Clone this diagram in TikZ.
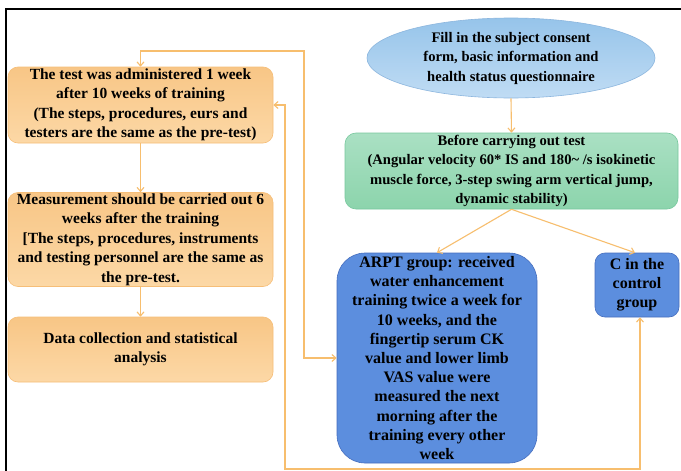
\documentclass[tikz,border=0pt]{standalone}
\usepackage{fontspec}
\setmainfont{Liberation Serif}
\usetikzlibrary{arrows.meta,shapes.geometric}
\definecolor{ortop}{RGB}{248,198,134}
\definecolor{orbot}{RGB}{252,216,166}
\definecolor{orbd}{RGB}{246,190,120}
\definecolor{eltop}{RGB}{150,196,234}
\definecolor{elbot}{RGB}{192,220,244}
\definecolor{elbd}{RGB}{140,182,222}
\definecolor{grtop}{RGB}{170,224,195}
\definecolor{grbot}{RGB}{140,212,172}
\definecolor{grbd}{RGB}{120,200,158}
\definecolor{bl}{RGB}{92,142,222}
\definecolor{blbd}{RGB}{70,110,190}
\definecolor{lineor}{RGB}{247,190,110}
\newcommand{\txtfont}{\fontsize{14.6}{19.5}\selectfont\bfseries}
\newcommand{\ortxt}{\fontsize{15.5}{19.5}\selectfont\bfseries}
\newcommand{\bltxt}{\fontsize{16}{19.2}\selectfont\bfseries}
\tikzset{
  conn/.style={draw=lineor, line width=1.1pt},
  tip/.style={-{Straight Barb[length=4pt,width=7pt]}},
  bothtip/.style={{Straight Barb[length=4pt,width=7pt]}-{Straight Barb[length=4pt,width=7pt]}},
  orbox/.style={rectangle, rounded corners=10pt, draw=orbd, top color=ortop, bottom color=orbot, line width=0.6pt, align=center, font=\ortxt, inner sep=0pt, minimum width=265pt},
  grbox/.style={rectangle, rounded corners=11pt, draw=grbd, top color=grtop, bottom color=grbot, line width=0.6pt, align=center, font=\txtfont, inner sep=0pt},
  blbox/.style={rectangle, draw=blbd, fill=bl, line width=0.6pt, align=center, font=\bltxt, inner sep=0pt},
  elbox/.style={ellipse, draw=elbd, top color=eltop, bottom color=elbot, line width=0.6pt, align=center, font=\txtfont, inner sep=0pt}
}
\begin{document}
\begin{tikzpicture}[x=1pt,y=-1pt]
\useasboundingbox (0,0) rectangle (681,471);
\fill[white] (0,0) rectangle (681,471);
\draw[black, line width=1.4pt] (681,9) -- (6,9) -- (6,471);

\node[elbox, minimum width=288pt, minimum height=80pt] (ell) at (511,58)
  {Fill in the subject consent\\form, basic information and\\health status questionnaire};
\node[grbox, minimum width=333pt, minimum height=76pt] (green) at (511.5,171)
  {Before carrying out test\\(Angular velocity 60* IS and 180\char`~{} /s isokinetic\\muscle force, 3-step swing arm vertical jump,\\dynamic stability)};
\node[blbox, rounded corners=28pt, minimum width=200pt, minimum height=210pt] (arpt) at (437,358)
  {ARPT group: received\\water enhancement\\training twice a week for\\10 weeks, and the\\fingertip serum CK\\value and lower limb\\VAS value were\\measured the next\\morning after the\\training every other\\week};
\node[blbox, rounded corners=10pt, minimum width=84pt, minimum height=64pt] (ctrl) at (637,285)
  {C in the\\control\\group};

\node[orbox, minimum height=76pt] (b1) at (140.5,105)
  {The test was administered 1 week\\after 10 weeks of training\\(The steps, procedures, eurs and\\testers are the same as the pre-test)};
\node[orbox, minimum height=94pt] (b2) at (140.5,239.5)
  {Measurement should be carried out 6\\weeks after the training\\{[}The steps, procedures, instruments\\and testing personnel are the same as\\the pre-test.};
\node[orbox, minimum height=65pt] (b3) at (140.5,349.5)
  {Data collection and statistical\\analysis};

\coordinate (c1) at (304,51);
\coordinate (c2) at (285,469);

\draw[conn, tip] (ell.south) -- (green.north);
\draw[conn, tip] (green.south) -- (arpt.north);
\draw[conn, tip] (green.south) -- ([xshift=-2pt]ctrl.north);
\draw[conn, tip] (b1.south) -- (b2.north);
\draw[conn, tip] (b2.south) -- (b3.north);
\draw[conn, bothtip] (b1.north) |- (c1) |- (arpt.west);
\draw[conn, bothtip] (b1.east) -| (c2) -| ([xshift=3pt]ctrl.south);
\end{tikzpicture}
\end{document}
